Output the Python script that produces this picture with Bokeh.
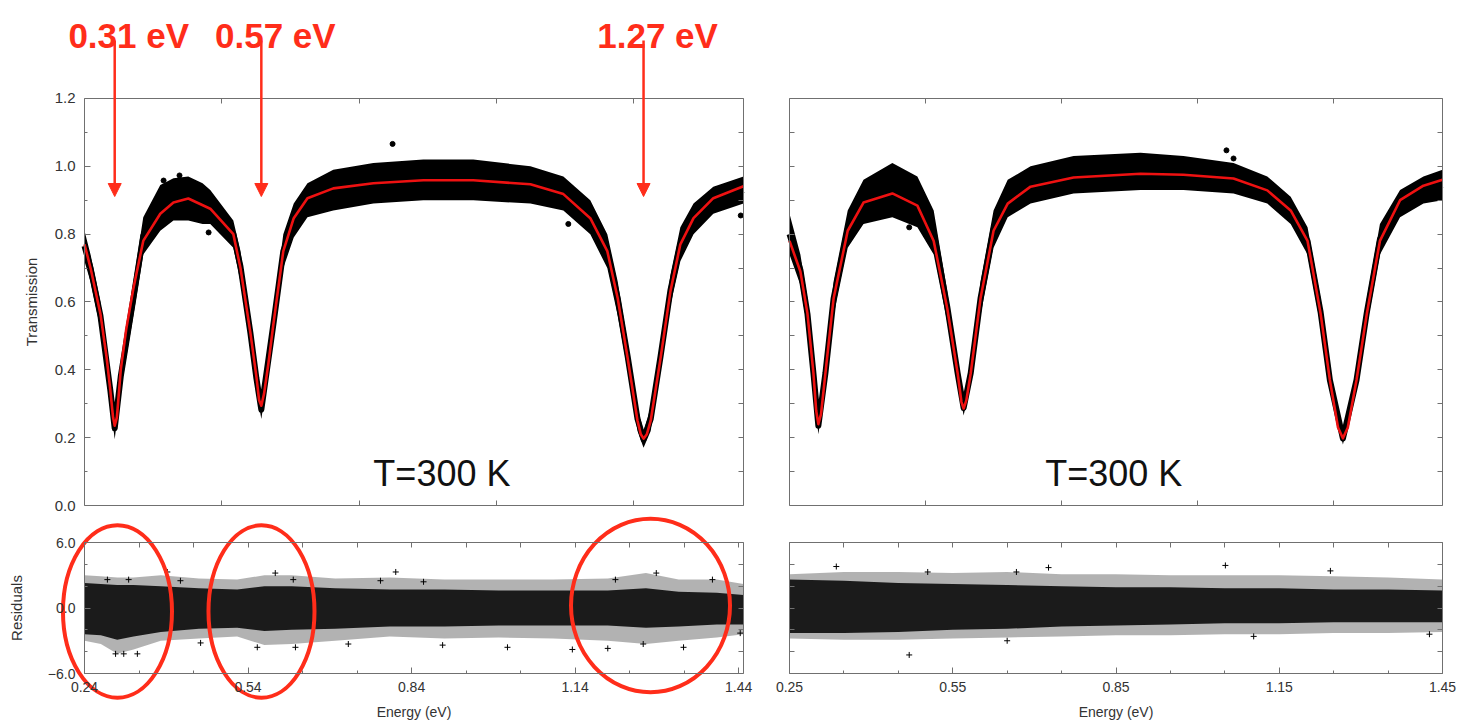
import numpy as np
from bokeh.plotting import figure
from bokeh.models import (Range1d, LinearAxis, FixedTicker, Arrow, NormalHead, Label,
                          PrintfTickFormatter)
from bokeh.layouts import column, row
from bokeh.embed import file_html
from bokeh.resources import INLINE

# ---------------- data ----------------
# left panel: fitted transmission curve
fit_E_left = [0.250, 0.261, 0.279, 0.290, 0.297, 0.302, 0.305, 0.309, 0.316, 0.326, 0.339, 0.357,
              0.388, 0.412, 0.439, 0.479, 0.521, 0.534, 0.552, 0.563, 0.568, 0.572, 0.577, 0.585,
              0.594, 0.612, 0.631, 0.656, 0.703, 0.776, 0.867, 0.958, 1.062, 1.122, 1.171, 1.202,
              1.221, 1.239, 1.257, 1.263, 1.268, 1.274, 1.281, 1.299, 1.317, 1.335, 1.359, 1.395, 1.450]
fit_T_left = [0.77, 0.70, 0.565, 0.44, 0.34, 0.26, 0.235, 0.26, 0.40, 0.52, 0.64, 0.78,
              0.86, 0.893, 0.905, 0.875, 0.80, 0.70, 0.51, 0.38, 0.31, 0.294, 0.33, 0.42,
              0.535, 0.75, 0.847, 0.906, 0.935, 0.950, 0.959, 0.959, 0.947, 0.918, 0.847, 0.75,
              0.61, 0.435, 0.25, 0.21, 0.197, 0.21, 0.25, 0.435, 0.632, 0.77, 0.847, 0.906, 0.941]
# left panel: measured data envelope
data_E_left = [0.250, 0.261, 0.279, 0.297, 0.305, 0.316, 0.339, 0.357, 0.388, 0.412, 0.439, 0.465,
               0.479, 0.521, 0.534, 0.552, 0.563, 0.572, 0.594, 0.612, 0.631, 0.656, 0.703, 0.776,
               0.867, 0.958, 1.062, 1.122, 1.171, 1.202, 1.221, 1.239, 1.257, 1.268, 1.281, 1.299,
               1.317, 1.335, 1.359, 1.395, 1.450]
data_hi_left = [0.81, 0.74, 0.60, 0.38, 0.26, 0.42, 0.66, 0.85, 0.945, 0.965, 0.97, 0.95,
                0.93, 0.84, 0.75, 0.55, 0.41, 0.31, 0.58, 0.80, 0.89, 0.95, 0.99, 1.01,
                1.02, 1.02, 1.00, 0.97, 0.90, 0.80, 0.66, 0.48, 0.29, 0.22, 0.29, 0.48,
                0.68, 0.82, 0.89, 0.94, 0.97]
data_lo_left = [0.72, 0.66, 0.52, 0.30, 0.195, 0.34, 0.56, 0.74, 0.81, 0.84, 0.84, 0.83,
                0.83, 0.76, 0.66, 0.47, 0.34, 0.255, 0.49, 0.70, 0.79, 0.85, 0.87, 0.89,
                0.90, 0.90, 0.89, 0.87, 0.80, 0.70, 0.56, 0.40, 0.22, 0.17, 0.22, 0.40,
                0.59, 0.72, 0.80, 0.86, 0.89]
# left panel: isolated data points standing out of the band
out_E_left = [0.394, 0.423, 0.476, 0.811, 1.131, 1.445]
out_T_left = [0.958, 0.973, 0.805, 1.066, 0.830, 0.855]

# right panel: fitted transmission curve
fit_E_right = [0.250, 0.270, 0.283, 0.294, 0.299, 0.303, 0.308, 0.316, 0.331, 0.357, 0.386, 0.439,
               0.485, 0.515, 0.540, 0.559, 0.566, 0.570, 0.575, 0.583, 0.601, 0.625, 0.651, 0.693,
               0.772, 0.895, 0.974, 1.066, 1.128, 1.171, 1.202, 1.226, 1.243, 1.258, 1.267, 1.276,
               1.292, 1.311, 1.335, 1.372, 1.415, 1.450]
fit_T_right = [0.78, 0.69, 0.566, 0.39, 0.28, 0.24, 0.27, 0.39, 0.61, 0.81, 0.893, 0.92,
               0.884, 0.78, 0.58, 0.39, 0.305, 0.286, 0.31, 0.39, 0.61, 0.81, 0.89, 0.94,
               0.967, 0.978, 0.975, 0.964, 0.929, 0.87, 0.78, 0.566, 0.37, 0.23, 0.198, 0.23,
               0.37, 0.566, 0.78, 0.90, 0.943, 0.96]
data_E_right = [0.250, 0.270, 0.283, 0.294, 0.303, 0.316, 0.331, 0.357, 0.386, 0.439, 0.485, 0.515,
                0.540, 0.559, 0.570, 0.583, 0.601, 0.625, 0.651, 0.693, 0.772, 0.895, 0.974, 1.066,
                1.128, 1.171, 1.202, 1.226, 1.243, 1.267, 1.292, 1.311, 1.335, 1.372, 1.415, 1.450]
data_hi_right = [0.86, 0.74, 0.61, 0.43, 0.26, 0.43, 0.66, 0.87, 0.96, 1.01, 0.97, 0.87,
                 0.63, 0.42, 0.31, 0.42, 0.66, 0.87, 0.96, 1.00, 1.03, 1.04, 1.03, 1.01,
                 0.97, 0.91, 0.82, 0.61, 0.40, 0.215, 0.40, 0.61, 0.83, 0.93, 0.97, 0.99]
data_lo_right = [0.74, 0.65, 0.52, 0.35, 0.21, 0.35, 0.56, 0.76, 0.83, 0.85, 0.82, 0.74,
                 0.54, 0.36, 0.265, 0.36, 0.56, 0.76, 0.85, 0.89, 0.92, 0.93, 0.93, 0.92,
                 0.89, 0.83, 0.74, 0.53, 0.34, 0.18, 0.34, 0.53, 0.74, 0.85, 0.89, 0.90]
out_E_right = [0.470, 1.053, 1.066]
out_T_right = [0.820, 1.047, 1.023]

# residuals (dense core and sparse fringe)
res_E_left = [0.24, 0.27, 0.30, 0.33, 0.38, 0.45, 0.52, 0.57, 0.62, 0.70, 0.80, 0.90, 1.00,
              1.10, 1.20, 1.27, 1.33, 1.40, 1.449]
res_core_hi_left = [2.3, 2.2, 2.1, 2.1, 2.0, 1.8, 1.7, 2.0, 2.0, 1.8, 1.7, 1.7, 1.6,
                    1.6, 1.6, 1.8, 1.5, 1.4, 1.2]
res_core_lo_left = [-2.4, -2.5, -2.9, -2.6, -2.2, -1.9, -1.8, -2.1, -2.0, -1.9, -1.7, -1.7, -1.6,
                    -1.6, -1.6, -1.8, -1.7, -1.5, -1.5]
res_fr_hi_left = [3.0, 2.9, 2.8, 2.8, 3.0, 2.7, 2.6, 3.0, 3.0, 2.7, 2.8, 2.6, 2.6,
                  2.6, 2.7, 3.2, 2.6, 2.6, 2.2]
res_fr_lo_left = [-3.0, -3.3, -4.2, -3.8, -3.0, -2.8, -2.6, -3.4, -3.3, -3.0, -2.6, -2.8, -2.7,
                  -2.8, -3.0, -3.3, -3.0, -2.7, -2.4]
res_out_E_left = [0.321, 0.282, 0.297, 0.312, 0.337, 0.392, 0.416, 0.453, 0.557, 0.590, 0.623, 0.627,
                  0.724, 0.783, 0.811, 0.862, 0.897, 1.016, 1.135, 1.200, 1.214, 1.289, 1.265, 1.339,
                  1.392, 1.443]
res_out_v_left = [2.6, 2.6, -4.2, -4.2, -4.2, 3.3, 2.5, -3.2, -3.6, 3.2, 2.6, -3.6,
                  -3.3, 2.5, 3.3, 2.4, -3.4, -3.6, -3.8, -3.7, 2.6, 3.2, -3.3, -3.6,
                  2.6, -2.3]

res_E_right = [0.25, 0.35, 0.45, 0.55, 0.65, 0.75, 0.85, 0.95, 1.05, 1.15, 1.25, 1.35, 1.45]
res_core_hi_right = [2.6, 2.5, 2.3, 2.2, 2.1, 2.0, 1.9, 1.9, 1.8, 1.8, 1.7, 1.7, 1.6]
res_core_lo_right = [-2.3, -2.3, -2.2, -2.0, -1.9, -1.7, -1.6, -1.5, -1.4, -1.4, -1.3, -1.3, -1.3]
res_fr_hi_right = [3.1, 3.3, 3.3, 3.2, 3.3, 3.1, 3.1, 3.0, 3.0, 3.0, 2.9, 2.8, 2.6]
res_fr_lo_right = [-2.8, -2.9, -2.9, -2.8, -2.7, -2.6, -2.5, -2.5, -2.4, -2.4, -2.3, -2.3, -2.2]
res_out_E_right = [0.336, 0.470, 0.726, 1.051, 1.244, 0.650, 1.103, 1.426, 0.667, 0.504]
res_out_v_right = [3.8, -4.3, 3.7, 3.9, 3.4, -3.0, -2.6, -2.4, 3.3, 3.3]

# annotations
peak_labels = ["0.31 eV", "0.57 eV", "1.27 eV"]
peak_E = [0.305, 0.572, 1.268]
temp_text = "T=300 K"
ring_E = [0.3005, 0.5647, 1.2784]
ring_v = [-0.32, -0.32, 0.23]
ring_w = [0.200, 0.1945, 0.2917]
ring_h = [15.8, 15.8, 15.9]

# ticks / labels
main_x_ticks = [0.5, 0.75, 1.0, 1.25]
main_y_major = [0.0, 0.2, 0.4, 0.6, 0.8, 1.0, 1.2]
main_y_minor = [0.1, 0.3, 0.5, 0.7, 0.9, 1.1]
main_y_all = sorted(main_y_major + main_y_minor)
res_left_x_major = [0.24, 0.54, 0.84, 1.14, 1.44]
res_left_x_minor = [0.34, 0.44, 0.64, 0.74, 0.94, 1.04, 1.24, 1.34]
res_right_x_major = [0.25, 0.55, 0.85, 1.15, 1.45]
res_right_x_minor = [0.35, 0.45, 0.65, 0.75, 0.95, 1.05, 1.25, 1.35]
res_y_major = [-6, 0, 6]
res_y_minor = [-4, -2, 2, 4]
res_y_labels = {-6: "\u22126.0", 0: "0.0", 6: "6.0"}

FONT = "Liberation Sans"
AX = "#707070"
TXT = "#333333"
RED_FIT = "#ee1111"
RED_ANN = "#ff2d1a"

# page geometry of the reference: each figure's frame fills its canvas, and the
# ranges are chosen so that the panel boxes land where the reference draws them
W_L, W_R, H_M, H_R = 753, 707, 513, 209
PX_T = 339.2                 # px per transmission unit (0 at y=505)
PX_R = 131 / 12.0            # px per residual unit (0 at y=607.5)
PX_E_L = 659 / 1.2           # left main panel, frame x 84..743
PX_E_LR = 659 / 1.209        # left residual panel
PX_E_R = 653 / 1.2           # right panels, frame x 789..1442 (canvas starts at 753)
main_yr = ((505 - H_M) / PX_T, 505 / PX_T)
res_yr = ((607.5 - (H_M + H_R)) / PX_R, (607.5 - H_M) / PX_R)


def make_fig(w, h, xr, yr):
    p = figure(width=w, height=h, x_range=Range1d(*xr), y_range=Range1d(*yr),
               output_backend="svg", toolbar_location=None,
               x_axis_location=None, y_axis_location=None,
               min_border_left=0, min_border_right=0, min_border_top=0, min_border_bottom=0)
    p.xgrid.visible = False
    p.ygrid.visible = False
    p.outline_line_color = None
    p.background_fill_color = "white"
    p.border_fill_color = "white"
    return p


def add_axis(p, side, major, minor, fixed, bounds, labels=False, overrides=None, fmt=None,
             fsize="15px", label=None, label_standoff=10, label_size="15px", standoff=8):
    if labels:
        ax = LinearAxis(ticker=FixedTicker(ticks=major, minor_ticks=minor))
        if fmt:
            ax.formatter = PrintfTickFormatter(format=fmt)
        if overrides:
            ax.major_label_overrides = overrides
        ax.major_label_text_font = FONT
        ax.major_label_text_font_size = fsize
        ax.major_label_text_color = TXT
        ax.major_label_standoff = standoff
        ax.major_tick_in = 6
        ax.minor_tick_in = 3
    else:
        # unlabeled mirror axis: every tick drawn as a (label-free) minor tick
        ax = LinearAxis(ticker=FixedTicker(ticks=[], minor_ticks=sorted(major + minor)))
        ax.minor_tick_in = 5
        ax.major_tick_in = 0
    ax.major_tick_out = 0
    ax.minor_tick_out = 0
    ax.axis_line_color = AX
    ax.major_tick_line_color = AX
    ax.minor_tick_line_color = AX
    ax.fixed_location = fixed
    ax.bounds = bounds
    if label:
        ax.axis_label = label
        ax.axis_label_text_font = FONT
        ax.axis_label_text_font_size = label_size
        ax.axis_label_text_font_style = "normal"
        ax.axis_label_text_color = TXT
        ax.axis_label_standoff = label_standoff
    p.add_layout(ax, side)
    return ax


def draw_main(p, E_fit, T_fit, E_d, hi, lo, oE, oT):
    mid = [(a + b) / 2 for a, b in zip(hi, lo)]
    p.varea(x=E_d, y1=lo, y2=hi, fill_color="black", fill_alpha=1.0)
    p.line(E_d, mid, line_color="black", line_width=6, line_join="round")
    p.scatter(oE, oT, marker="circle", size=5, fill_color="black", line_color="black")
    p.line(E_fit, T_fit, line_color=RED_FIT, line_width=2.6, line_join="round")


def draw_res(p, E, chi, clo, fhi, flo, oE, ov):
    p.varea(x=E, y1=flo, y2=fhi, fill_color="black", fill_alpha=0.3)
    p.varea(x=E, y1=clo, y2=chi, fill_color="black", fill_alpha=0.85)
    p.scatter(oE, ov, marker="cross", size=6, line_color="black", line_width=1)


# ---------- left transmission panel ----------
pL = make_fig(W_L, H_M, (0.25 - 84 / PX_E_L, 0.25 + (W_L - 84) / PX_E_L), main_yr)
add_axis(pL, "below", main_x_ticks, [], 0.0, (0.25, 1.45))
add_axis(pL, "above", main_x_ticks, [], 1.2, (0.25, 1.45))
add_axis(pL, "left", main_y_major, main_y_minor, 0.25, (0.0, 1.2), labels=True, fmt="%.1f",
         label="Transmission", label_standoff=12, standoff=9)
add_axis(pL, "right", main_y_all, [], 1.45, (0.0, 1.2))
draw_main(pL, fit_E_left, fit_T_left, data_E_left, data_hi_left, data_lo_left,
          out_E_left, out_T_left)

for lab, e in zip(peak_labels, peak_E):
    pL.add_layout(Arrow(end=NormalHead(size=13, fill_color=RED_ANN, line_color=RED_ANN),
                        x_start=e, y_start=(505 - 40) / PX_T, x_end=e, y_end=(505 - 196) / PX_T,
                        line_color=RED_ANN, line_width=2.5))
    pL.add_layout(Label(x=e, y=(505 - 35) / PX_T, x_offset=14, text=lab, text_align="center",
                        text_baseline="alphabetic", text_font=FONT, text_font_size="35px",
                        text_font_style="bold", text_color=RED_ANN))
pL.add_layout(Label(x=0.776, y=0.094, text=temp_text, text_font=FONT, text_font_size="36px",
                    text_color="#111111", text_baseline="alphabetic"))

# ---------- right transmission panel ----------
pR = make_fig(W_R, H_M, (0.25 - 36 / PX_E_R, 0.25 + (W_R - 36) / PX_E_R), main_yr)
add_axis(pR, "below", main_x_ticks, [], 0.0, (0.25, 1.45))
add_axis(pR, "above", main_x_ticks, [], 1.2, (0.25, 1.45))
add_axis(pR, "left", main_y_all, [], 0.25, (0.0, 1.2))
add_axis(pR, "right", main_y_all, [], 1.45, (0.0, 1.2))
draw_main(pR, fit_E_right, fit_T_right, data_E_right, data_hi_right, data_lo_right,
          out_E_right, out_T_right)
pR.add_layout(Label(x=0.720, y=0.094, text=temp_text, text_font=FONT, text_font_size="36px",
                    text_color="#111111", text_baseline="alphabetic"))

# ---------- left residual panel ----------
rL = make_fig(W_L, H_R, (0.24 - 84 / PX_E_LR, 0.24 + (W_L - 84) / PX_E_LR), res_yr)
add_axis(rL, "below", res_left_x_major, res_left_x_minor, -6, (0.24, 1.449), labels=True,
         fmt="%.2f", fsize="14px", label="Energy (eV)", label_standoff=9, label_size="14px",
         standoff=8)
add_axis(rL, "above", res_left_x_major, res_left_x_minor, 6, (0.24, 1.449))
add_axis(rL, "left", res_y_major, res_y_minor, 0.24, (-6, 6), labels=True,
         overrides=res_y_labels, fsize="14px", label="Residuals", label_standoff=20, standoff=9)
add_axis(rL, "right", res_y_major, res_y_minor, 1.449, (-6, 6))
draw_res(rL, res_E_left, res_core_hi_left, res_core_lo_left, res_fr_hi_left, res_fr_lo_left,
         res_out_E_left, res_out_v_left)
rL.ellipse(x=ring_E, y=ring_v, width=ring_w, height=ring_h, fill_alpha=0,
           line_color=RED_ANN, line_width=4)

# ---------- right residual panel ----------
rR = make_fig(W_R, H_R, (0.25 - 36 / PX_E_R, 0.25 + (W_R - 36) / PX_E_R), res_yr)
add_axis(rR, "below", res_right_x_major, res_right_x_minor, -6, (0.25, 1.45), labels=True,
         fmt="%.2f", fsize="14px", label="Energy (eV)", label_standoff=9, label_size="14px",
         standoff=8)
add_axis(rR, "above", res_right_x_major, res_right_x_minor, 6, (0.25, 1.45))
add_axis(rR, "left", res_y_major, res_y_minor, 0.25, (-6, 6))
add_axis(rR, "right", res_y_major, res_y_minor, 1.45, (-6, 6))
draw_res(rR, res_E_right, res_core_hi_right, res_core_lo_right, res_fr_hi_right, res_fr_lo_right,
         res_out_E_right, res_out_v_right)

layout = column(row(pL, pR, spacing=0), row(rL, rR, spacing=0), spacing=0)

with open("out.html", "w") as f:
    f.write(file_html(layout, INLINE))
